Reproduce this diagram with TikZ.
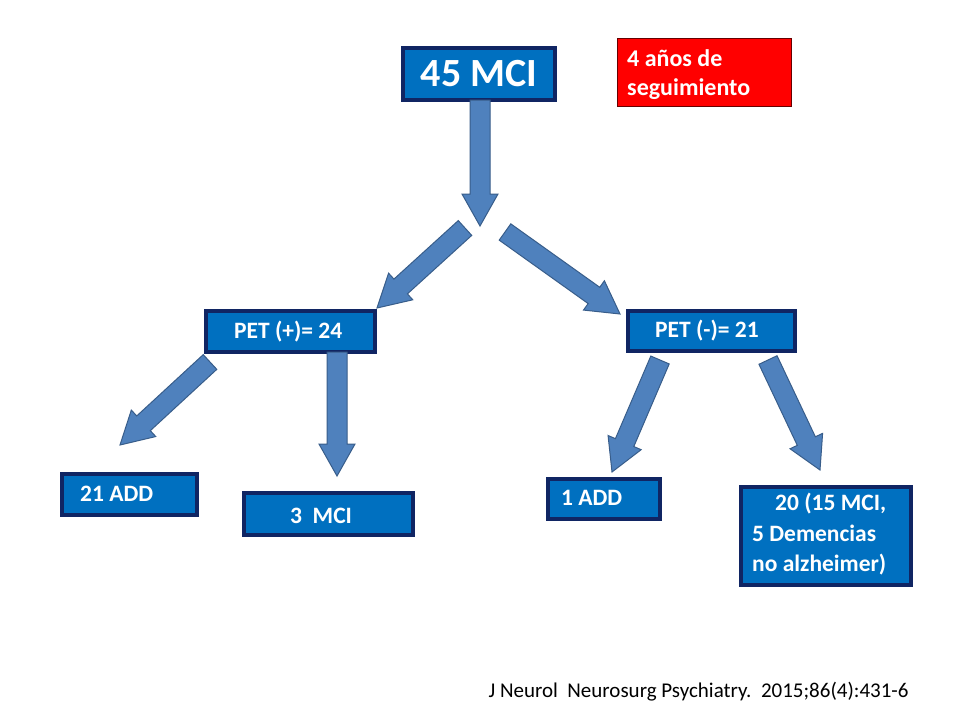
\documentclass[tikz,border=0pt]{standalone}
\usepackage{fontspec}
\setmainfont{Carlito}
\usetikzlibrary{calc}
\definecolor{boxblue}{RGB}{0,112,192}
\definecolor{navy}{RGB}{16,37,99}
\definecolor{arrfill}{RGB}{79,129,189}
\definecolor{arrline}{RGB}{56,93,138}
\tikzset{
  bbox/.style={draw=navy,line width=3.5pt,fill=boxblue},
  btext/.style={text=white,font=\bfseries\fontsize{23.5}{30.5}\selectfont},
  barrow/.style={fill=arrfill,draw=arrline,line width=1pt}
}
\newcommand{\blockarr}[2]{%
  \path ($(#2)!32pt!(#1)$) coordinate (hb);
  \draw[barrow] ($(#1)!10pt!90:(#2)$) -- ($(hb)!10pt!90:(#2)$) -- ($(hb)!18pt!90:(#2)$) -- (#2)
    -- ($(hb)!18pt!-90:(#2)$) -- ($(hb)!10pt!-90:(#2)$) -- ($(#1)!10pt!-90:(#2)$) -- cycle;}
\begin{document}
\begin{tikzpicture}[x=1pt,y=-1pt]
\useasboundingbox[fill=white] (0,0) rectangle (960,720);
% boxes
\draw[bbox] (403,48) rectangle (555,100);
\node[text=white,font=\bfseries\fontsize{40}{46}\selectfont] (top) at (479,74) {45 MCI};
\draw[draw=red!40!black,line width=0.5pt,fill=red] (617,38) rectangle (791,106);
\node[anchor=north west,text=white,align=left,font=\bfseries\fontsize{24}{29}\selectfont,inner sep=0pt] (seg) at (627,49) {4 años de\\seguimiento};
\draw[bbox] (206,311) rectangle (375,352);
\node[btext,anchor=west,inner sep=0pt] (pp) at (234,332) {PET (+)= 24};
\draw[bbox] (628,311) rectangle (795,351);
\node[btext,anchor=west,inner sep=0pt] (pn) at (655,331) {PET (-)= 21};
\draw[bbox] (62,474) rectangle (197,515);
\node[btext,anchor=west,inner sep=0pt] (a21) at (80,494) {21 ADD};
\draw[bbox] (244,493) rectangle (413,535);
\node[btext,anchor=west,inner sep=0pt] (m3) at (290,516) {3\ \ MCI};
\draw[bbox] (548,479) rectangle (660,519);
\node[btext,anchor=west,inner sep=0pt] (a1) at (561,498) {1 ADD};
\draw[bbox] (741,487) rectangle (911,585);
\node[btext,anchor=north west,align=left,inner sep=0pt] (d20) at (752,493) {\hspace*{23pt}20 (15 MCI,\\5 Demencias\\no alzheimer)};
% arrows
\coordinate (a1s) at (480,100); \coordinate (a1e) at (480,226);
\coordinate (a2s) at (465,228); \coordinate (a2e) at (377,308);
\coordinate (a3s) at (505,232); \coordinate (a3e) at (620,314);
\coordinate (a4s) at (210,362); \coordinate (a4e) at (120,445);
\coordinate (a5s) at (337,352); \coordinate (a5e) at (337,476);
\coordinate (a6s) at (660,360); \coordinate (a6e) at (612,472);
\coordinate (a7s) at (768,360); \coordinate (a7e) at (820,470);
\blockarr{a1s}{a1e}
\blockarr{a2s}{a2e}
\blockarr{a3s}{a3e}
\blockarr{a4s}{a4e}
\blockarr{a5s}{a5e}
\blockarr{a6s}{a6e}
\blockarr{a7s}{a7e}
\node[anchor=east,font=\fontsize{21}{25}\selectfont] (cit) at (912,692) {J Neurol\ \ Neurosurg\ Psychiatry.\ \ 2015;86(4):431-6};
\end{tikzpicture}
\end{document}
